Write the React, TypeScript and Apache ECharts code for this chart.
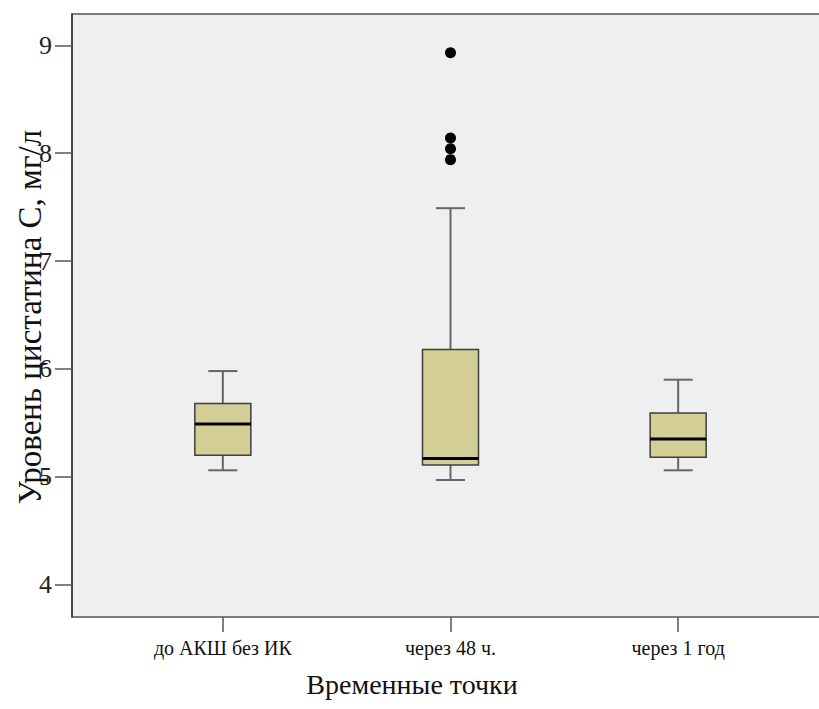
import React, { useEffect, useRef } from "react";
import * as echarts from "echarts";

// Time points on the x axis
const categories = ["до АКШ без ИК", "через 48 ч.", "через 1 год"];

// Box statistics per time point: [lower whisker, Q1, median, Q3, upper whisker]
const lowerWhisker = [5.06, 4.97, 5.06];
const q1 = [5.2, 5.11, 5.18];
const median = [5.49, 5.17, 5.35];
const q3 = [5.68, 6.18, 5.59];
const upperWhisker = [5.98, 7.49, 5.9];

// Outliers: [category index, value]
const outliers: [number, number][] = [
  [1, 8.93],
  [1, 8.14],
  [1, 8.04],
  [1, 7.94],
];

const yTicks = [4, 5, 6, 7, 8, 9];
const yMin = 3.7;
const yMax = 9.29;

const yTitle = "Уровень цистатина С, мг/л";
const xTitle = "Временные точки";

const SERIF = "'Liberation Serif', 'Times New Roman', serif";

// The plotting frame runs on past the right edge of the visible area,
// so the chart canvas is wider than the clipping container.
const VIEW_W = 819;
const VIEW_H = 709;
const CHART_W = 870;

export default function App() {
  const ref = useRef<HTMLDivElement>(null);

  useEffect(() => {
    if (!ref.current) return;
    const chart = echarts.init(ref.current, null, { renderer: "svg" });

    const boxData = categories.map((_, i) => [
      i,
      lowerWhisker[i],
      q1[i],
      median[i],
      q3[i],
      upperWhisker[i],
    ]);

    const boxWidth = 56;
    const capWidth = 29;

    const renderBox = (params: any, api: any) => {
      const idx = api.value(0);
      const pLo = api.coord([idx, api.value(1)]);
      const pQ1 = api.coord([idx, api.value(2)]);
      const pMed = api.coord([idx, api.value(3)]);
      const pQ3 = api.coord([idx, api.value(4)]);
      const pHi = api.coord([idx, api.value(5)]);
      const cx = pMed[0];
      const whisker = { stroke: "#666", lineWidth: 2 };
      return {
        type: "group",
        children: [
          { type: "line", shape: { x1: cx, y1: pQ3[1], x2: cx, y2: pHi[1] }, style: whisker },
          { type: "line", shape: { x1: cx - capWidth / 2, y1: pHi[1], x2: cx + capWidth / 2, y2: pHi[1] }, style: whisker },
          { type: "line", shape: { x1: cx, y1: pQ1[1], x2: cx, y2: pLo[1] }, style: whisker },
          { type: "line", shape: { x1: cx - capWidth / 2, y1: pLo[1], x2: cx + capWidth / 2, y2: pLo[1] }, style: whisker },
          {
            type: "rect",
            shape: { x: cx - boxWidth / 2, y: pQ3[1], width: boxWidth, height: pQ1[1] - pQ3[1] },
            style: { fill: "#d3cd96", stroke: "#3f3f3f", lineWidth: 1.5 },
          },
          {
            type: "line",
            shape: { x1: cx - boxWidth / 2, y1: pMed[1], x2: cx + boxWidth / 2, y2: pMed[1] },
            style: { stroke: "#000", lineWidth: 3 },
          },
        ],
      };
    };

    chart.setOption({
      animation: false,
      grid: [
        {
          left: 72,
          top: 14,
          right: 0,
          bottom: 92,
          show: true,
          backgroundColor: "#efefef",
          borderColor: "#555",
          borderWidth: 1.5,
        },
        { left: 109, top: 14, right: CHART_W - 792, bottom: 92 },
      ],
      xAxis: [
        { type: "category", gridIndex: 0, data: categories, show: false },
        {
          type: "category",
          gridIndex: 1,
          data: categories,
          boundaryGap: true,
          axisLine: { show: false },
          axisTick: { show: true, alignWithLabel: true, length: 15, lineStyle: { color: "#555", width: 1.5 } },
          axisLabel: { margin: 21, fontFamily: SERIF, fontSize: 20, color: "#111" },
          splitLine: { show: false },
        },
      ],
      yAxis: [
        {
          type: "value",
          gridIndex: 0,
          min: yMin,
          max: yMax,
          axisLine: { show: true, lineStyle: { color: "#333", width: 1.5 } },
          axisTick: { show: true, length: 17, customValues: yTicks, lineStyle: { color: "#555", width: 1.5 } },
          axisLabel: { margin: 20, customValues: yTicks, fontFamily: SERIF, fontSize: 26, color: "#222" },
          splitLine: { show: false },
        },
        { type: "value", gridIndex: 1, min: yMin, max: yMax, show: false },
      ],
      graphic: [
        {
          type: "text",
          x: 30,
          y: 317,
          rotation: Math.PI / 2,
          style: {
            text: yTitle,
            fontFamily: SERIF,
            fontSize: 33,
            fill: "#111",
            align: "center",
            verticalAlign: "middle",
          },
        },
        {
          type: "text",
          x: 412,
          y: 684,
          style: {
            text: xTitle,
            fontFamily: SERIF,
            fontSize: 28,
            fill: "#111",
            align: "center",
            verticalAlign: "middle",
          },
        },
      ],
      series: [
        {
          type: "custom",
          xAxisIndex: 1,
          yAxisIndex: 1,
          data: boxData,
          renderItem: renderBox,
          z: 3,
        },
        {
          type: "scatter",
          xAxisIndex: 1,
          yAxisIndex: 1,
          data: outliers,
          symbol: "circle",
          symbolSize: 11,
          itemStyle: { color: "#000", opacity: 1 },
          z: 4,
        },
      ],
    });

    return () => chart.dispose();
  }, []);

  return (
    <div
      style={{
        position: "fixed",
        left: 0,
        top: 0,
        width: VIEW_W,
        height: VIEW_H,
        overflow: "hidden",
        background: "#fff",
      }}
    >
      <div ref={ref} style={{ width: CHART_W, height: VIEW_H }} />
    </div>
  );
}
